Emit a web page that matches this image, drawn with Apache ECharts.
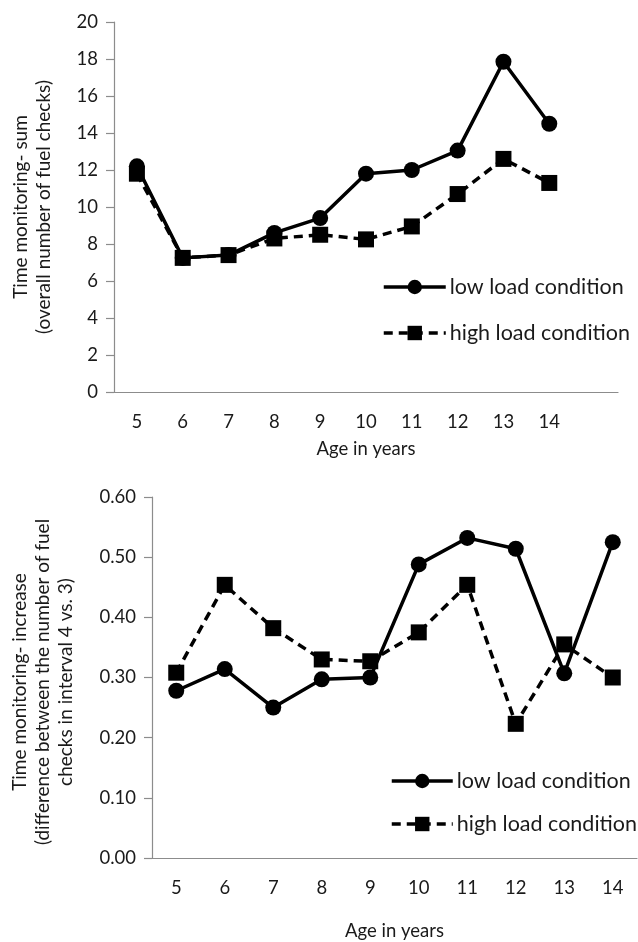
<!DOCTYPE html>
<html>
<head>
<meta charset="utf-8">
<script src="https://cdn.jsdelivr.net/npm/echarts@6/dist/echarts.min.js"></script>
<style>html,body{margin:0;padding:0;background:#fff}#c{width:638px;height:942px}</style>
</head>
<body>
<div id="c"></div>
<script>
// ---- data ----
var ages = ['5','6','7','8','9','10','11','12','13','14'];
var topCategories = ages.concat(['']);
var sumLow  = [12.2, 7.25, 7.4, 8.6, 9.4, 11.8, 12.0, 13.05, 17.85, 14.5];
var sumHigh = [11.8, 7.25, 7.4, 8.3, 8.5, 8.25, 8.95, 10.7, 12.6, 11.3];
var incLow  = [0.278, 0.314, 0.250, 0.297, 0.300, 0.488, 0.532, 0.514, 0.307, 0.525];
var incHigh = [0.308, 0.454, 0.382, 0.330, 0.327, 0.375, 0.454, 0.223, 0.355, 0.300];
var seriesNames = ['low load condition', 'high load condition'];
var topTitle = ['Time monitoring- sum', '(overall number of fuel checks)'];
var bottomTitle = ['Time monitoring- increase', '(difference between the number of fuel', 'checks in interval 4 vs. 3)'];
var xTitle = 'Age in years';

var FONT = 'Lato';
var axisColor = '#8c8c8c';
var textColor = '#1a1a1a';
var DASH = [9, 6];

function yAxisCfg(gridIndex, max, interval, dec) {
  return {
    gridIndex: gridIndex, type: 'value', min: 0, max: max, interval: interval,
    axisLine: {show: true, lineStyle: {color: axisColor, width: 1.2}},
    axisTick: {show: true, length: 8, lineStyle: {color: axisColor, width: 1.2}},
    splitLine: {show: false},
    axisLabel: {margin: 16, fontFamily: FONT, fontSize: 18.5, color: textColor,
      formatter: function (v) { return dec ? v.toFixed(2) : String(Math.round(v)); }}
  };
}
function xAxisCfg(gridIndex, cats, gap) {
  return {
    gridIndex: gridIndex, type: 'category', data: cats, boundaryGap: true,
    axisLine: {show: true, lineStyle: {color: axisColor, width: 1.2}},
    axisTick: {show: false},
    axisLabel: {margin: 21, fontFamily: FONT, fontSize: 18.5, color: textColor, interval: 0},
    name: xTitle, nameLocation: 'middle', nameGap: gap,
    nameTextStyle: {fontFamily: FONT, fontSize: 18.5, color: textColor}
  };
}
function lineSeries(name, data, idx, dashed) {
  return {
    name: name, type: 'line', xAxisIndex: idx, yAxisIndex: idx, data: data,
    symbol: dashed ? 'rect' : 'circle', symbolSize: 16,
    lineStyle: {color: '#000', width: 3.5, type: dashed ? DASH : 'solid'},
    itemStyle: {color: '#000'},
    z: dashed ? 2 : 3,
    animation: false
  };
}
function rotTitle(lines, cx, cy) {
  return {
    type: 'text', x: cx, y: cy, rotation: Math.PI / 2,
    style: {text: lines.join('\n'), fontFamily: FONT, fontSize: 19, lineHeight: 23,
      fill: textColor, align: 'center', verticalAlign: 'middle'}
  };
}
function legendCfg(left, top, gap, width, suffix) {
  return {
    orient: 'vertical', left: left, top: top, itemWidth: width, itemHeight: 18, itemGap: gap,
    data: [seriesNames[0] + suffix, seriesNames[1] + suffix],
    lineStyle: {width: 3.5},
    textStyle: {fontFamily: FONT, fontSize: 21.5, color: textColor, padding: [0, 0, 0, -1]}
  };
}

var chart = echarts.init(document.getElementById('c'), null, {renderer: 'canvas'});
chart.setOption({
  backgroundColor: '#fff',
  animation: false,
  grid: [
    {left: 114, top: 22, width: 504, height: 370},
    {left: 152, top: 497, width: 485, height: 370}
  ],
  xAxis: [xAxisCfg(0, topCategories, 48), xAxisCfg(1, ages, 64)],
  yAxis: [yAxisCfg(0, 20, 2, false), yAxisCfg(1, 0.6, 0.1, true)],
  legend: [legendCfg(377, 271, 24, 62, ''), legendCfg(385, 765, 21, 61, ' ')],
  series: [
    lineSeries(seriesNames[0], sumLow, 0, false),
    lineSeries(seriesNames[1], sumHigh, 0, true),
    lineSeries(seriesNames[0] + ' ', incLow, 1, false),
    lineSeries(seriesNames[1] + ' ', incHigh, 1, true)
  ],
  graphic: [
    rotTitle(topTitle, 32, 207),
    rotTitle(bottomTitle, 43, 682)
  ]
});
</script>
</body>
</html>
